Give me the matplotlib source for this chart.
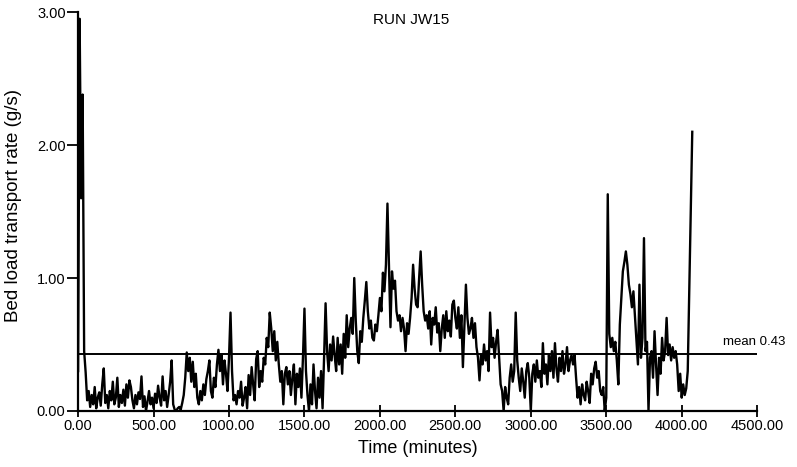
import numpy as np
import matplotlib.pyplot as plt

plt.rcParams['font.family'] = ['Liberation Sans', 'DejaVu Sans']

# bed load transport rate (g/s), one reading every 10 minutes
step = 10
rate = [
    0.30, 2.95, 1.60, 2.38, 0.45, 0.29, 0.08, 0.15, 0.03, 0.12,
    0.05, 0.18, 0.02, 0.10, 0.14, 0.04, 0.20, 0.32, 0.06, 0.12,
    0.02, 0.15, 0.08, 0.22, 0.05, 0.10, 0.25, 0.03, 0.12, 0.06,
    0.16, 0.04, 0.20, 0.10, 0.23, 0.18, 0.08, 0.02, 0.12, 0.05,
    0.14, 0.09, 0.26, 0.03, 0.11, 0.00, 0.07, 0.15, 0.05, 0.10,
    0.02, 0.13, 0.06, 0.19, 0.10, 0.04, 0.26, 0.08, 0.15, 0.03,
    0.12, 0.22, 0.38, 0.05, 0.01, 0.00, 0.02, 0.03, 0.01, 0.06,
    0.12, 0.25, 0.44, 0.30, 0.40, 0.22, 0.37, 0.18, 0.28, 0.10,
    0.05, 0.15, 0.08, 0.20, 0.12, 0.24, 0.30, 0.38, 0.15, 0.10,
    0.25, 0.18, 0.35, 0.46, 0.30, 0.42, 0.20, 0.38, 0.28, 0.15,
    0.40, 0.74, 0.30, 0.08, 0.12, 0.05, 0.15, 0.10, 0.22, 0.04,
    0.10, 0.18, 0.02, 0.27, 0.12, 0.33, 0.20, 0.08, 0.39, 0.45,
    0.18, 0.30, 0.22, 0.40, 0.35, 0.55, 0.48, 0.74, 0.62, 0.45,
    0.60, 0.38, 0.52, 0.35, 0.22, 0.30, 0.05, 0.28, 0.33, 0.20,
    0.30, 0.12, 0.25, 0.35, 0.05, 0.28, 0.18, 0.32, 0.10, 0.40,
    0.77, 0.30, 0.12, 0.00, 0.20, 0.05, 0.35, 0.15, 0.02, 0.25,
    0.10, 0.30, 0.02, 0.40, 0.81, 0.45, 0.30, 0.50, 0.38, 0.56,
    0.42, 0.30, 0.55, 0.35, 0.50, 0.28, 0.58, 0.40, 0.72, 0.48,
    0.62, 0.70, 0.58, 1.00, 0.68, 0.45, 0.36, 0.60, 0.52, 0.70,
    0.83, 0.97, 0.75, 0.62, 0.68, 0.55, 0.53, 0.65, 0.60, 0.72,
    0.85, 0.75, 1.04, 0.90, 1.10, 1.56, 1.08, 0.63, 1.05, 0.92,
    0.98, 0.75, 0.68, 0.72, 0.60, 0.70, 0.62, 0.45, 0.66, 0.58,
    0.70, 0.85, 1.10, 0.92, 0.80, 0.78, 1.00, 1.20, 0.95, 0.75,
    0.68, 0.72, 0.62, 0.75, 0.50, 0.70, 0.65, 0.78, 0.59, 0.66,
    0.45, 0.62, 0.72, 0.55, 0.75, 0.60, 0.68, 0.56, 0.80, 0.83,
    0.70, 0.62, 0.78, 0.55, 0.72, 0.33, 0.65, 0.95, 0.70, 0.58,
    0.62, 0.70, 0.55, 0.66, 0.48, 0.40, 0.23, 0.42, 0.35, 0.50,
    0.38, 0.45, 0.30, 0.74, 0.48, 0.55, 0.40, 0.52, 0.61, 0.40,
    0.20, 0.15, 0.00, 0.18, 0.10, 0.05, 0.25, 0.35, 0.22, 0.30,
    0.74, 0.38, 0.25, 0.15, 0.32, 0.22, 0.10, 0.30, 0.36, 0.25,
    0.00, 0.28, 0.35, 0.22, 0.38, 0.25, 0.30, 0.18, 0.51, 0.28,
    0.35, 0.20, 0.42, 0.30, 0.45, 0.25, 0.51, 0.32, 0.22, 0.40,
    0.30, 0.45, 0.28, 0.35, 0.48, 0.30, 0.38, 0.42, 0.35, 0.42,
    0.25, 0.10, 0.18, 0.05, 0.20, 0.12, 0.08, 0.22, 0.15, 0.06,
    0.28, 0.20, 0.32, 0.37, 0.25, 0.30, 0.15, 0.12, 0.18, 0.00,
    0.10, 1.63, 0.58, 0.48, 0.55, 0.45, 0.52, 0.38, 0.20, 0.65,
    0.85, 1.05, 1.12, 1.20, 1.10, 0.95, 0.88, 0.78, 0.90, 0.72,
    0.55, 0.35, 0.95, 0.40, 0.55, 1.30, 0.45, 0.52, 0.00, 0.40,
    0.45, 0.25, 0.60, 0.35, 0.12, 0.40, 0.28, 0.55, 0.38, 0.45,
    0.70, 0.42, 0.50, 0.38, 0.48, 0.40, 0.45, 0.35, 0.15, 0.28,
    0.10, 0.20, 0.12, 0.17, 0.30, 0.88, 1.50, 2.10,
]
time = np.arange(len(rate)) * step
mean_rate = 0.43

xticks = np.arange(0, 4501, 500)
yticks = [0, 1, 2, 3]

fig = plt.figure(figsize=(7.97, 4.67), dpi=100)
ax = fig.add_axes([0.098, 0.12, 0.852, 0.854])

ax.plot(time, rate, color='black', lw=1.7)
ax.plot([0, 4500], [mean_rate, mean_rate], color='black', lw=1.4)
ax.text(4690, mean_rate + 0.04, "mean %.2f" % mean_rate, fontsize=9.5,
        ha='right', va='bottom')

ax.set_xlim(0, 4500)
ax.set_ylim(0, 3)
ax.spines['top'].set_visible(False)
ax.spines['right'].set_visible(False)
ax.spines['left'].set_linewidth(1.6)
ax.spines['bottom'].set_linewidth(1.6)

ax.set_xticks(xticks)
ax.set_xticklabels(["%.2f" % v for v in xticks])
ax.set_yticks(yticks)
ax.set_yticklabels(["%.2f" % v for v in yticks])
ax.tick_params(axis='x', direction='inout', length=9, width=1.3, labelsize=10.5, pad=1)
ax.tick_params(axis='y', direction='out', length=8, width=1.3, labelsize=10.5, pad=1)

ax.text(0.49, 0.98, "RUN JW15", transform=ax.transAxes, fontsize=11,
        ha='center', va='center')
ax.set_xlabel("Time (minutes)", fontsize=13)
ax.xaxis.set_label_coords(0.50, -0.073)
ax.set_ylabel("Bed load transport rate (g/s)", fontsize=13.5)
ax.yaxis.set_label_coords(-0.083, 0.516)

fig.savefig("out.png", dpi=100)
